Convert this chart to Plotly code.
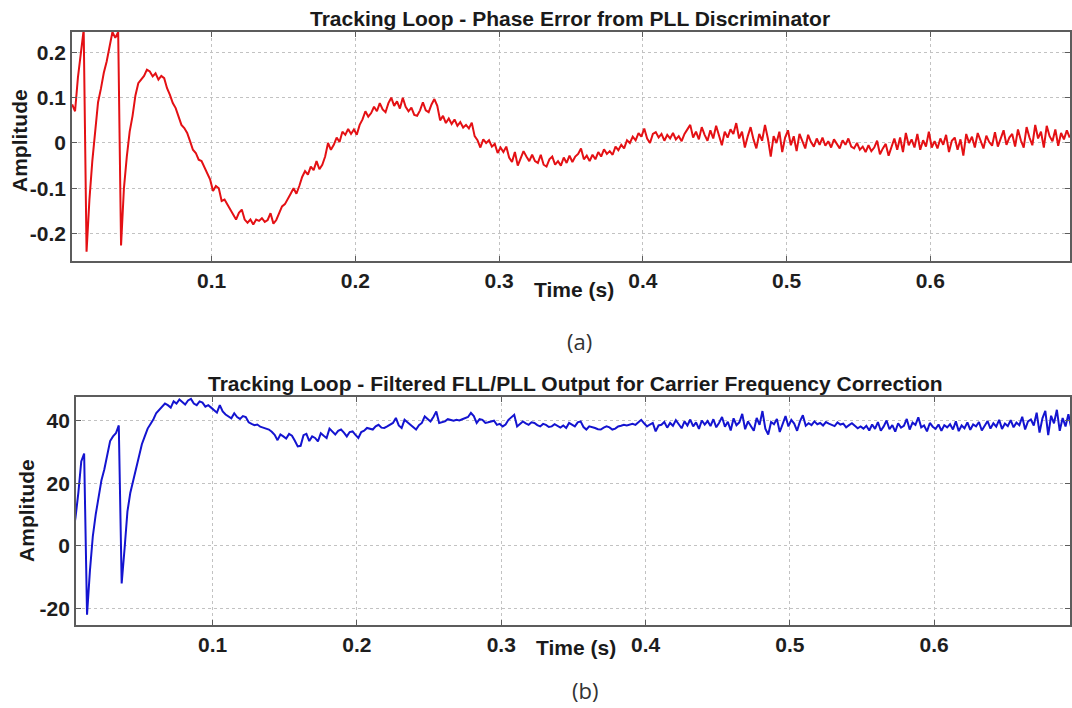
import plotly.graph_objects as go

# Sample clock shared by both recorded loop signals (seconds)
T0 = 0.003
DT = 0.002

# Phase error from the PLL discriminator
phase_error = [
    0.085, 0.07, 0.145, 0.198, 0.25, -0.24, -0.125, -0.04, 0.03, 0.09,
    0.12, 0.155, 0.18, 0.212, 0.245, 0.232, 0.245, -0.226, -0.1, -0.03,
    0.025, 0.06, 0.105, 0.132, 0.14, 0.148, 0.162, 0.158, 0.147, 0.154,
    0.14, 0.148, 0.143, 0.121, 0.106, 0.088, 0.077, 0.059, 0.04, 0.033,
    0.022, 0.004, -0.015, -0.022, -0.037, -0.04, -0.055, -0.07, -0.081, -0.106,
    -0.095, -0.1, -0.128, -0.125, -0.136, -0.147, -0.158, -0.169, -0.154, -0.147,
    -0.169, -0.176, -0.169, -0.18, -0.169, -0.172, -0.166, -0.174, -0.17, -0.155,
    -0.178, -0.17, -0.155, -0.14, -0.135, -0.125, -0.112, -0.1, -0.112, -0.095,
    -0.075, -0.062, -0.07, -0.052, -0.06, -0.04, -0.058, -0.048, -0.03, 0.0,
    -0.015, -0.004, 0.012, 0.002, 0.025, 0.018, 0.031, 0.02, 0.03, 0.018,
    0.04, 0.052, 0.07, 0.058, 0.066, 0.08, 0.07, 0.088, 0.074, 0.068,
    0.088, 0.1, 0.082, 0.092, 0.076, 0.1, 0.08, 0.07, 0.078, 0.062,
    0.06, 0.072, 0.09, 0.072, 0.068, 0.085, 0.097, 0.082, 0.05, 0.06,
    0.044, 0.054, 0.042, 0.052, 0.038, 0.046, 0.034, 0.04, 0.032, 0.045,
    0.015, 0.006, -0.01, 0.008, 0.0, 0.006, -0.008, -0.002, -0.022, -0.01,
    -0.02, -0.008, -0.032, -0.042, -0.02, -0.05, -0.036, -0.018, -0.03, -0.04,
    -0.026, -0.04, -0.044, -0.026, -0.048, -0.052, -0.036, -0.03, -0.048, -0.04,
    -0.05, -0.032, -0.044, -0.028, -0.042, -0.03, -0.024, -0.012, -0.036, -0.028,
    -0.04, -0.026, -0.036, -0.02, -0.03, -0.014, -0.024, -0.018, -0.026, -0.008,
    -0.016, -0.004, -0.012, 0.006, 0.0, 0.014, 0.006, 0.022, 0.014, 0.032,
    0.01, 0.0, 0.02, 0.024,
    0.012, 0.02, 0.005, 0.018, 0.01, 0.022, 0.008, 0.015, 0.004, 0.02,
    0.03, 0.04, 0.012, 0.025, 0.008, 0.035, 0.018, 0.005, 0.028, 0.01,
    0.038, 0.015, -0.005, 0.025, 0.012, 0.03, 0.02, 0.044, 0.01, 0.025,
    -0.01, 0.015, 0.035, 0.008, -0.012, 0.02, 0.005, 0.04, 0.01, -0.03,
    0.015, 0.0, 0.025, -0.02, 0.012, 0.028, -0.005, 0.015, -0.018, 0.02,
    0.005, -0.012, 0.018, 0.002, -0.008, 0.01, -0.004, 0.012, -0.006, 0.004,
    -0.01, 0.008, -0.002, -0.012, 0.006, -0.004, 0.01, -0.008, -0.012, 0.0,
    -0.015, -0.008, -0.02, -0.005, -0.018, -0.01, 0.005, -0.025, -0.012, -0.002,
    -0.028, -0.008, 0.01, -0.015, 0.012, -0.02, 0.022, -0.005, 0.008, -0.01,
    0.02, -0.015, 0.006, -0.008, 0.025, -0.01, 0.004, -0.012, 0.01, -0.004,
    0.018, -0.02, 0.005, 0.012, -0.015, 0.008, -0.028, 0.02, 0.0, 0.014,
    -0.01, 0.022, 0.004, -0.012, 0.016, 0.002, -0.006, 0.024, -0.008, 0.01,
    0.028, -0.004, 0.012, 0.02, -0.008, 0.03, 0.006, -0.01, 0.035, 0.012,
    -0.005, 0.04, 0.01, 0.025, -0.01, 0.038, 0.015, 0.004, 0.03, -0.006,
    0.022, 0.008, 0.028, 0.012,
]

# Filtered FLL/PLL output used for carrier frequency correction
freq_correction = [
    3, 9, 17, 27, 29.5, -22, -8, 3, 10, 15.5,
    21, 24.5, 28.5, 33.5, 35, 36, 38.5, -12, -1, 11,
    17, 21, 25, 29, 32.5, 35, 37.5, 39, 40.5, 42.5,
    43.5, 44.5, 45.5, 45, 44.2, 46.2, 45.5, 46.8, 46, 45.2,
    46.5, 47, 45.5, 45, 46.2, 45.8, 44.5, 45, 44.2, 43.5,
    42.6, 45, 43, 42, 41.5, 40.8, 42.4, 41.2, 40.6, 41.5,
    41.2, 39.5, 39, 38.6, 38.8, 38.1, 37.8, 37.4, 37.2, 36.5,
    35.5, 33.8, 35.6, 35, 34.3, 35.8, 35.2, 33.6, 31.8, 32,
    35.4, 35.8, 33.5, 35, 34.5, 33.4, 36, 35.2, 34.5, 37.5,
    36.6, 35.6, 36.8, 37.2, 36.2, 35, 36.4, 36.6, 35.5, 34.5,
    36.4, 36.8, 37.7, 37.4, 37.2, 38.2, 38.7, 37.8, 37.7, 38.2,
    38.8, 39.3, 40.9, 38.5, 37.7, 40.3, 39.5, 38.7, 37.8, 37.2,
    38.6, 39.3, 41.4, 40.5, 39.8, 41.2, 43, 39.3, 39.6, 39.8,
    40.5, 40.3, 40, 40.3, 40.1, 40.5, 40.9, 41.2, 42.5, 41.5,
    39.3, 40.5, 40.3, 39.3, 39.5, 39.8, 40, 38.7, 39, 38.2,
    38.8, 40.3, 41, 41.9, 38.2, 39, 39.8, 39.2, 38.7, 39.5,
    39.3, 38.6, 38.2, 39, 38.7, 38, 38.2, 38.9, 38.2, 37.8,
    38.5, 37.7, 39.3, 38.6, 38.2, 39.5, 39.8, 38, 37.2, 38.2,
    38, 37.7, 37.3, 37.2, 37.8, 38.2, 37.9, 37.2, 37.5, 38.2,
    38.4, 38.7, 38.5, 38.7, 39, 38.7, 39.5, 40.3, 39.2, 38.2,
    38.8, 39.3, 36.6, 38.5,
    38.7, 39.6, 37.8, 39.3, 38.4, 40.2, 38.9, 37.6, 39.8, 38.5,
    40.4, 38.2, 39.5, 37.4, 40.1, 38.8, 39.9, 38.3, 40.5, 37.9,
    39.4, 41.2, 38.1, 39.7, 36.9, 40.8, 38.6, 39.5, 42.2, 37.3,
    39.8, 38.4, 36.8, 40.9, 38.7, 43.1, 37.5, 35.6, 39.6, 38.9,
    40.6, 36.4, 39.2, 41.5, 38.2, 40.3, 39.1, 36.8, 39.8, 41.8,
    38.4, 39.2, 38.6, 39.8, 38.9, 39.3, 38.5, 39.6, 39.1, 38.7,
    38.3, 39.5, 38.8, 39.1, 37.9, 38.6, 39.2, 38.4, 37.6, 38.2,
    37.5, 38.4, 36.9, 38.8, 37.4, 39.6, 36.8, 38.2, 40.1, 37.3,
    38.6, 36.5, 39.2, 37.8, 38.4, 40.6, 37.2, 39.4, 38.7, 41.1,
    37.9, 38.5, 36.6, 39.3, 38.1, 37.4, 38.8, 36.8, 38.6, 37.9,
    38.9, 37.2, 39.8, 36.7, 38.5, 37.6, 39.5, 37.1, 38.8, 38.2,
    39.6, 36.9, 38.4, 39.9, 37.5, 39.2, 38.1, 40.3, 37.4, 39.1,
    38.3, 40.2, 37.9, 39.4, 38.6, 41.3, 37.2, 39.8, 40.4, 38.5,
    42.6, 36.2, 40.8, 43.2, 35.4, 41.6, 39.2, 43.5, 36.8, 40.9,
    38.2, 42.1, 37.6, 39.8,
]

time_ticks = [0.1, 0.2, 0.3, 0.4, 0.5, 0.6]
time_tick_text = ["0.1", "0.2", "0.3", "0.4", "0.5", "0.6"]
phase_ticks = [-0.2, -0.1, 0, 0.1, 0.2]
phase_tick_text = ["-0.2", "-0.1", "0", "0.1", "0.2"]
freq_ticks = [-20, 0, 20, 40]
freq_tick_text = ["-20", "0", "20", "40"]

top_title = "Tracking Loop - Phase Error from PLL Discriminator"
bottom_title = "Tracking Loop - Filtered FLL/PLL Output for Carrier Frequency Correction"
x_label = "Time (s)"
y_label = "Amplitude"

t_phase = [round(T0 + DT * i, 4) for i in range(len(phase_error))]
t_freq = [round(T0 + DT * i, 4) for i in range(len(freq_correction))]

W, H = 1072, 708
FONT = "Liberation Sans, Arial, sans-serif"


def px(x):
    return x / W


def py(y):
    return 1 - y / H


fig = go.Figure()
fig.add_trace(go.Scatter(x=t_phase, y=phase_error, mode="lines",
                         line=dict(color="rgb(228,16,20)", width=2),
                         xaxis="x", yaxis="y", showlegend=False))
fig.add_trace(go.Scatter(x=t_freq, y=freq_correction, mode="lines",
                         line=dict(color="rgb(20,20,208)", width=2),
                         xaxis="x2", yaxis="y2", showlegend=False))

axis_style = dict(
    showline=True, linecolor="#5c5c5c", linewidth=1.5, mirror="allticks",
    ticks="inside", ticklen=5, tickcolor="#5c5c5c", tickwidth=1,
    showgrid=True, gridcolor="#c2c2c2", griddash="dot", gridwidth=1,
    zeroline=False,
    tickfont=dict(family=FONT, size=21, color="#1e1e1e", weight="bold"),
)

fig.update_layout(
    width=W, height=H,
    margin=dict(l=0, r=0, t=0, b=0),
    paper_bgcolor="white", plot_bgcolor="white",
    xaxis=dict(domain=[px(72), 1.0], range=[0.00278, 0.6972], anchor="y",
               tickvals=time_ticks, ticktext=time_tick_text, **axis_style),
    yaxis=dict(domain=[py(261), py(32)], range=[-0.2605, 0.245], anchor="x",
               tickvals=phase_ticks, ticktext=phase_tick_text, **axis_style),
    xaxis2=dict(domain=[px(76), 1.0], range=[0.00526, 0.6941], anchor="y2",
                tickvals=time_ticks, ticktext=time_tick_text, **axis_style),
    yaxis2=dict(domain=[py(625), py(397)], range=[-25.3, 47.6], anchor="x2",
                tickvals=freq_ticks, ticktext=freq_tick_text, **axis_style),
)

label_font = dict(family=FONT, size=21, color="#1a1a1a", weight="bold")
caption_font = dict(family="Open Sans, Noto Sans, sans-serif", size=22, color="#333333")

annotations = [
    dict(text=top_title, x=px(571), y=py(18), font=label_font),
    dict(text=bottom_title, x=px(577), y=py(383), font=label_font),
    dict(text=x_label, x=px(575), y=py(290), font=label_font),
    dict(text=x_label, x=px(577), y=py(647), font=label_font),
    dict(text=y_label, x=px(19), y=py(140), font=label_font, textangle=-90),
    dict(text=y_label, x=px(26), y=py(510), font=label_font, textangle=-90),
    dict(text="(a)", x=px(581), y=py(341), font=caption_font),
    dict(text="(b)", x=px(586), y=py(690), font=caption_font),
]
for a in annotations:
    a.update(xref="paper", yref="paper", xanchor="center", yanchor="middle",
             showarrow=False)
fig.update_layout(annotations=annotations)

fig.write_html("out.html")
